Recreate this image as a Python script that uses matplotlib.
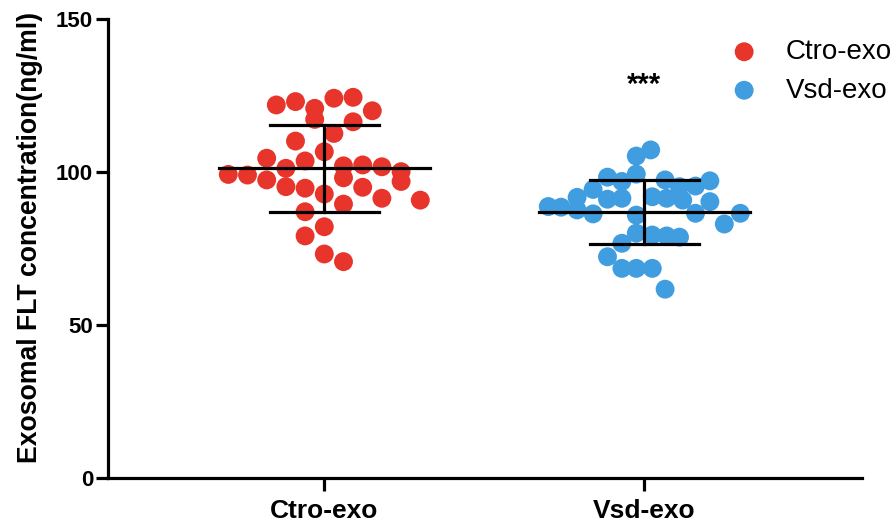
import numpy as np
import matplotlib.pyplot as plt

plt.rcParams['font.family'] = ['Liberation Sans', 'DejaVu Sans']

groups = ['Ctro-exo', 'Vsd-exo']
colors = ['#e8352c', '#3f9de0']

# values (ng/ml) and horizontal jitter (category units)
ctro_vals = [121.9, 123.0, 120.8, 124.1, 124.4, 120.0, 117.2, 116.4, 112.6, 110.1,
             106.6, 104.5, 103.6, 101.2, 102.0, 102.3, 101.7, 100.1, 99.2, 99.0,
             97.4, 95.2, 94.7, 98.1, 96.9, 95.0, 92.8, 91.4, 90.8, 89.5,
             87.0, 82.1, 79.1, 73.2, 70.7]
ctro_jit = [-0.15, -0.09, -0.03, 0.03, 0.09, 0.15, -0.03, 0.09, 0.03, -0.09,
            0.0, -0.18, -0.06, -0.12, 0.06, 0.12, 0.18, 0.24, -0.30, -0.24,
            -0.18, -0.12, -0.06, 0.06, 0.24, 0.12, 0.0, 0.18, 0.30, 0.06,
            -0.06, 0.0, -0.06, 0.0, 0.06]

vsd_vals = [107.2, 105.2, 98.3, 99.3, 96.9, 97.4, 97.1, 95.4, 95.2, 94.3,
            91.7, 91.1, 91.4, 91.9, 91.4, 90.8, 90.3, 88.7, 88.5, 87.6,
            86.3, 85.9, 86.5, 86.5, 83.0, 80.0, 79.4, 79.1, 78.7, 76.7,
            72.3, 68.5, 68.5, 68.5, 61.7]
vsd_jit = [0.02, -0.025, -0.115, -0.025, -0.07, 0.065, 0.205, 0.16, 0.11, -0.16,
           -0.21, -0.115, -0.07, 0.025, 0.07, 0.12, 0.205, -0.30, -0.26, -0.21,
           -0.16, -0.025, 0.16, 0.30, 0.25, -0.025, 0.025, 0.07, 0.11, -0.07,
           -0.115, -0.07, -0.025, 0.025, 0.065]

means = [101.2, 87.0]
sds = [14.2, 10.5]
significance = '***'

fig = plt.figure(figsize=(8.95, 5.27), dpi=100)
ax = fig.add_axes([0.121, 0.093, 0.842, 0.871])

for i, (vals, jit) in enumerate([(ctro_vals, ctro_jit), (vsd_vals, vsd_jit)]):
    xpos = i + 1
    ax.scatter(xpos + np.array(jit), vals, s=185, color=colors[i],
               edgecolors='none', zorder=2, label=groups[i])
    m, sd = means[i], sds[i]
    ax.plot([xpos - 0.33, xpos + 0.33], [m, m], color='black', lw=2.3, zorder=3)
    for y in (m - sd, m + sd):
        ax.plot([xpos - 0.17, xpos + 0.17], [y, y], color='black', lw=2.3, zorder=3)
    ax.plot([xpos, xpos], [m - sd, m + sd], color='black', lw=2.3, zorder=3)

ax.text(2, 128.5, significance, ha='center', va='center', fontsize=21, fontweight='bold')

ax.set_xlim(0.325, 2.68)
ax.set_ylim(0, 150)
ax.set_yticks([0, 50, 100, 150])
ax.set_xticks([1, 2])
ax.set_xticklabels(groups)
for lab in ax.get_yticklabels():
    lab.set_fontweight('bold')
    lab.set_fontsize(16)
for lab in ax.get_xticklabels():
    lab.set_fontweight('bold')
    lab.set_fontsize(19)
ax.set_ylabel('Exosomal FLT concentration(ng/ml)', fontsize=19.2, fontweight='bold')
ax.yaxis.set_label_coords(-0.087, 0.523)

ax.spines['top'].set_visible(False)
ax.spines['right'].set_visible(False)
ax.spines['left'].set_linewidth(2.3)
ax.spines['bottom'].set_linewidth(2.3)
ax.tick_params(axis='both', width=2.3, length=9, direction='out', pad=2)
ax.tick_params(axis='x', pad=6)

fig.legend(loc='upper right', bbox_to_anchor=(1.009, 0.947), frameon=False, fontsize=20,
           handletextpad=0.9, markerscale=1.0, labelspacing=0.45, borderaxespad=0,
           handlelength=1.2)

fig.savefig('out.png', dpi=100)
